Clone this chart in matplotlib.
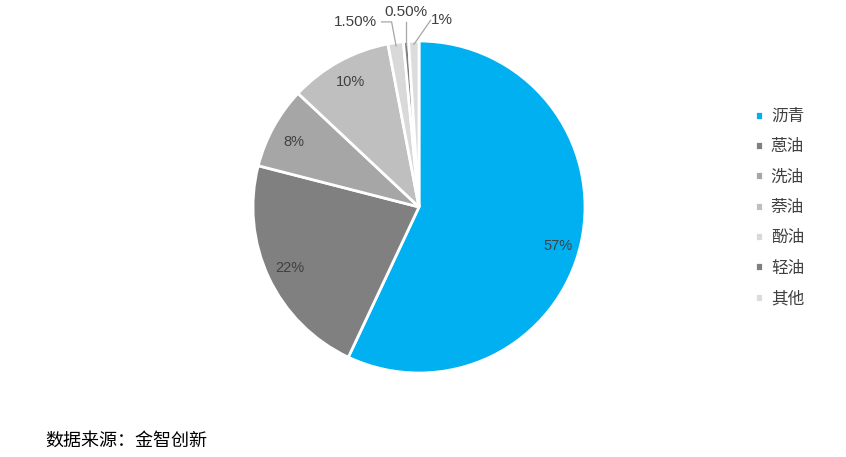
import numpy as np
import matplotlib.pyplot as plt

plt.rcParams['font.family'] = ['Noto Sans CJK SC', 'DejaVu Sans']

labels = ['沥青', '蒽油', '洗油', '萘油', '酚油', '轻油', '其他']
values = [57, 22, 8, 10, 1.5, 0.5, 1]
pct_text = ['57%', '22%', '8%', '10%', '1.50%', '0.50%', '1%']
colors = ['#00B0F0', '#808080', '#A6A6A6', '#BFBFBF', '#D9D9D9', '#7F7F7F', '#DCDCDC']

W, H = 846, 457
fig = plt.figure(figsize=(W / 100, H / 100), dpi=100)
cx, cy, r = 419, 207, 166
ax = fig.add_axes([(cx - r) / W, (H - cy - r) / H, 2 * r / W, 2 * r / H])

wedges, _ = ax.pie(values, colors=colors, startangle=90, counterclock=False,
                   wedgeprops=dict(edgecolor='white', linewidth=2), radius=1)
ax.set_xlim(-1, 1)
ax.set_ylim(-1, 1)
ax.set_aspect('equal')
ax.axis('off')

lab_font = ['Liberation Sans Narrow', 'Liberation Sans', 'DejaVu Sans']
txt_col = '#404040'
total = sum(values)
cum = np.cumsum([0] + values)
for i, w in enumerate(wedges):
    mid = 90 - (cum[i] + values[i] / 2) / total * 360
    a = np.deg2rad(mid)
    if values[i] >= 5:
        d = 0.86
        dy = 0
        if i == 0:
            dy = -0.05
        elif i == 2:
            dy = -0.02
        ax.text(d * np.cos(a), d * np.sin(a) + dy, pct_text[i], ha='center', va='center',
                fontsize=10.5, color=txt_col, family=lab_font)

# small slices: outside labels with leader lines
small = {4: (-0.38, 1.115, -0.225, 'corner'), 5: (-0.078, 1.175, None, 'vert'),
         6: (0.14, 1.125, 0.07, 'corner')}
for i, (tx, ty, hx, kind) in small.items():
    mid = 90 - (cum[i] + values[i] / 2) / total * 360
    a = np.deg2rad(mid)
    ex, ey = 0.98 * np.cos(a), 0.98 * np.sin(a)
    ax.text(tx, ty, pct_text[i], ha='center', va='center', fontsize=11,
            color=txt_col, family=lab_font, clip_on=False)
    if kind == 'vert':
        ax.plot([ex, ex], [ey, ty - 0.06], color='#A6A6A6', lw=0.9, clip_on=False)
    elif hx < 0:
        ax.plot([hx, hx + 0.06, ex], [ty, ty, ey], color='#A6A6A6', lw=0.9, clip_on=False)
    else:
        ax.plot([hx, ex], [ty, ey], color='#A6A6A6', lw=0.9, clip_on=False)

leg = fig.legend(wedges, labels, loc='upper left', bbox_to_anchor=(740 / W, 1 - 93 / H),
                 frameon=False, fontsize=12, handlelength=0.45, handleheight=0.45,
                 handletextpad=0.5, labelspacing=0.80)
for t in leg.get_texts():
    t.set_color('#404040')

fig.text(45 / W, 1 - 441 / H, '数据来源：金智创新', fontsize=13, style='italic',
         color='#000000', va='center', ha='left')

fig.savefig('out.png', dpi=100)
